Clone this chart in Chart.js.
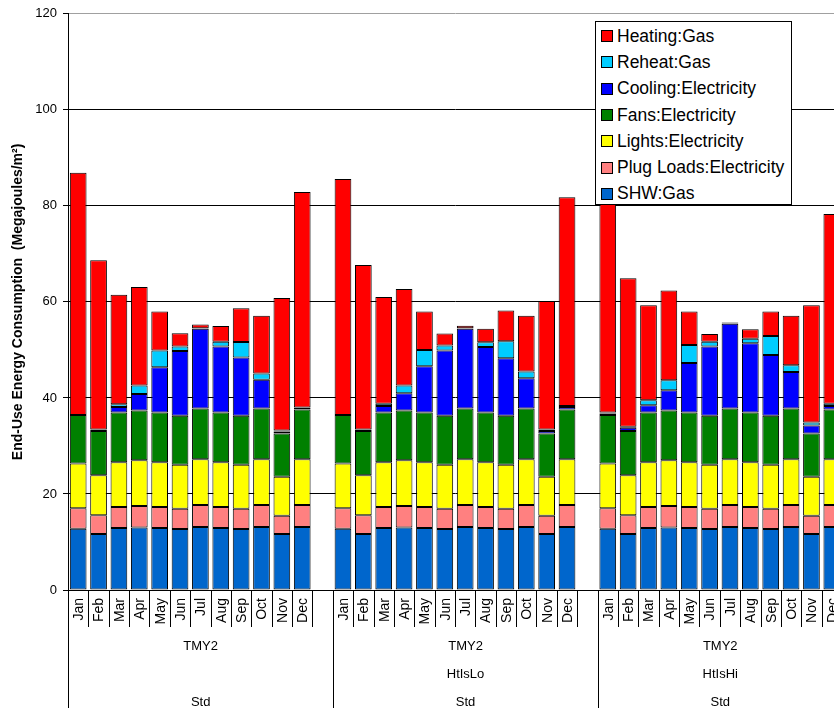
<!DOCTYPE html>
<html>
<head>
<meta charset="utf-8">
<script src="https://cdn.jsdelivr.net/npm/chart.js@4/dist/chart.umd.min.js"></script>
<style>
    html, body { margin: 0; padding: 0; background: #fff; overflow: hidden; }
    #wrap { position: relative; width: 850px; height: 708px; }
    #legend {
        position: absolute; left: 595px; top: 21px; width: 197px; height: 184px;
        box-sizing: border-box; border: 1px solid #000; background: #fff;
        font: 17.5px 'Liberation Sans', Arial, sans-serif; color: #000; padding-top: 1px;
    }
    #legend .item { height: 26.3px; display: flex; align-items: center; white-space: nowrap; }
    #legend .sw { width: 10px; height: 10px; border: 1px solid #000; margin: 0 4px 0 5px; }
</style>
</head>
<body>
<div id="wrap">
    <canvas id="usoChart" width="850" height="708"></canvas>
    <div id="legend"></div>
</div>
<script>
// categorias
const months = ['Jan', 'Feb', 'Mar', 'Apr', 'May', 'Jun', 'Jul', 'Aug', 'Sep', 'Oct', 'Nov', 'Dec'];
const levelWeather = ['TMY2', 'TMY2', 'TMY2'];
const levelCase = ['', 'HtIsLo', 'HtIsHi'];
const levelBase = ['Std', 'Std', 'Std'];

// cargas iguales en los tres casos (MJ/m2)
const shwGas = [12.75, 11.65, 12.9, 13.0, 12.9, 12.7, 13.1, 12.9, 12.7, 13.1, 11.65, 13.1];
const plugLoads = [4.3, 3.9, 4.4, 4.5, 4.4, 4.2, 4.6, 4.4, 4.2, 4.6, 3.8, 4.6];
const lights = [9.3, 8.35, 9.3, 9.5, 9.3, 9.2, 9.55, 9.3, 9.2, 9.55, 8.15, 9.55];
const fans = [10.1, 9.2, 10.35, 10.4, 10.35, 10.2, 10.55, 10.35, 10.2, 10.55, 9.0, 10.35];

// cargas por caso
const coolingStd = [0, 0.2, 1.15, 3.4, 9.45, 13.5, 16.6, 13.75, 12.1, 6.0, 0.4, 0.3];
const coolingLo = [0, 0.2, 1.35, 3.6, 9.65, 13.6, 16.6, 13.65, 11.95, 6.3, 0.5, 0.5];
const coolingHi = [0.3, 0.7, 1.55, 4.2, 10.35, 14.4, 17.65, 14.45, 12.65, 7.6, 1.65, 0.7];

const reheatStd = [0, 0.1, 0.6, 1.8, 3.5, 0.9, 0.1, 1.0, 3.25, 1.3, 0.2, 0.1];
const reheatLo = [0, 0.1, 0.5, 1.6, 3.4, 1.0, 0.1, 1.0, 3.55, 1.4, 0.3, 0.2];
const reheatHi = [0.2, 0.2, 1.0, 2.1, 3.7, 1.0, 0.1, 0.9, 3.95, 1.4, 0.65, 0.5];

const heatingStd = [50.45, 35.3, 22.8, 20.5, 8.1, 2.75, 0.8, 3.3, 7.05, 12.0, 27.6, 44.9];
const heatingLo = [49.15, 34.3, 22.2, 20.1, 8.0, 2.5, 0.55, 2.8, 6.4, 11.6, 26.8, 43.5];
const heatingHi = [48.0, 30.9, 19.8, 18.7, 7.0, 1.6, 0.15, 2.0, 5.1, 10.3, 24.4, 39.5];

const yTicks = [0, 20, 40, 60, 80, 100, 120];

// 3 grupos de 12 meses con un hueco entre grupos
function joinCases(a, b, c) {
    return [...a, null, ...b, null, ...c];
}
const labels = joinCases(months, months, months).map(m => m || '');
const GROUP = 13;

const series = [
    { label: 'SHW:Gas', data: joinCases(shwGas, shwGas, shwGas), color: '#0066CC' },
    { label: 'Plug Loads:Electricity', data: joinCases(plugLoads, plugLoads, plugLoads), color: '#FF8080' },
    { label: 'Lights:Electricity', data: joinCases(lights, lights, lights), color: '#FFFF00' },
    { label: 'Fans:Electricity', data: joinCases(fans, fans, fans), color: '#008000' },
    { label: 'Cooling:Electricity', data: joinCases(coolingStd, coolingLo, coolingHi), color: '#0000FF' },
    { label: 'Reheat:Gas', data: joinCases(reheatStd, reheatLo, reheatHi), color: '#00CCFF' },
    { label: 'Heating:Gas', data: joinCases(heatingStd, heatingLo, heatingHi), color: '#FF0000' }
];

const FONT = "'Liberation Sans', Arial, sans-serif";

// etiquetas del eje x en varios niveles
const multiLevelAxis = {
    id: 'multiLevelAxis',
    afterDraw(chart) {
        const { ctx, chartArea, scales: { x } } = chart;
        const half = (x.getPixelForValue(1) - x.getPixelForValue(0)) / 2;
        const bottom = chartArea.bottom;
        const n = labels.length;
        const edge = i => Math.round(x.getPixelForValue(i) - half) + 0.5;

        ctx.save();
        ctx.strokeStyle = '#000';
        ctx.lineWidth = 1;
        for (let i = 0; i <= n; i++) {
            const isGroup = i % GROUP === 0 || i === n;
            const px = i === n ? Math.round(x.getPixelForValue(n - 1) + half) + 0.5 : edge(i);
            ctx.beginPath();
            ctx.moveTo(px, bottom);
            ctx.lineTo(px, isGroup ? chart.height : bottom + 37);
            ctx.stroke();
        }

        ctx.fillStyle = '#000';
        ctx.font = '14px ' + FONT;
        ctx.textAlign = 'right';
        ctx.textBaseline = 'middle';
        labels.forEach((lab, i) => {
            if (!lab) return;
            ctx.save();
            ctx.translate(x.getPixelForValue(i) + 1, bottom + 8);
            ctx.rotate(-Math.PI / 2);
            ctx.fillText(lab, 0, 0);
            ctx.restore();
        });

        ctx.font = '13px ' + FONT;
        ctx.textAlign = 'center';
        for (let g = 0; g < 3; g++) {
            const a = edge(g * GROUP);
            const last = Math.min((g + 1) * GROUP, n) - 1;
            const b = x.getPixelForValue(last) + half;
            const cx = (a + b) / 2;
            ctx.fillText(levelWeather[g], cx, 646);
            if (levelCase[g]) ctx.fillText(levelCase[g], cx, 674);
            ctx.fillText(levelBase[g], cx, 702);
        }
        ctx.restore();
    }
};

const ctxUso = document.getElementById('usoChart');
new Chart(ctxUso, {
    type: 'bar',
    data: {
        labels: labels,
        datasets: series.map(s => ({
            label: s.label,
            data: s.data,
            backgroundColor: s.color,
            borderColor: '#000',
            borderWidth: 1,
            borderSkipped: false,
            barPercentage: 0.82,
            categoryPercentage: 1.0
        }))
    },
    options: {
        responsive: false,
        animation: false,
        layout: { padding: { top: 13, right: 8, left: 0, bottom: 0 } },
        plugins: { legend: { display: false }, tooltip: { enabled: false } },
        scales: {
            x: {
                stacked: true,
                grid: { display: false },
                border: { display: true, color: '#000' },
                ticks: { display: false },
                afterFit(scale) { scale.height = 118; }
            },
            y: {
                stacked: true,
                min: 0,
                max: 120,
                afterBuildTicks(scale) { scale.ticks = yTicks.map(v => ({ value: v })); },
                ticks: {
                    color: '#000',
                    padding: 6,
                    font: { family: FONT, size: 13 }
                },
                grid: {
                    color: c => (c.tick && c.tick.value === 120 ? '#A0A0A0' : '#000'),
                    tickColor: '#000',
                    tickLength: 5,
                    lineWidth: 1
                },
                border: { display: true, color: '#000', width: 1 },
                title: {
                    display: true,
                    text: 'End-Use Energy Consumption  (Megajoules/m²)',
                    color: '#000',
                    font: { family: FONT, size: 14, weight: 'bold' },
                    padding: { top: 10, bottom: 0 }
                },
                afterFit(scale) { scale.width = 68; }
            }
        }
    },
    plugins: [multiLevelAxis]
});

// leyenda propia, encima del grafico como en el original
const legendBox = document.getElementById('legend');
series.slice().reverse().forEach(s => {
    const row = document.createElement('div');
    row.className = 'item';
    row.innerHTML = '<span class="sw" style="background:' + s.color + '"></span><span>' + s.label + '</span>';
    legendBox.appendChild(row);
});
</script>
</body>
</html>
